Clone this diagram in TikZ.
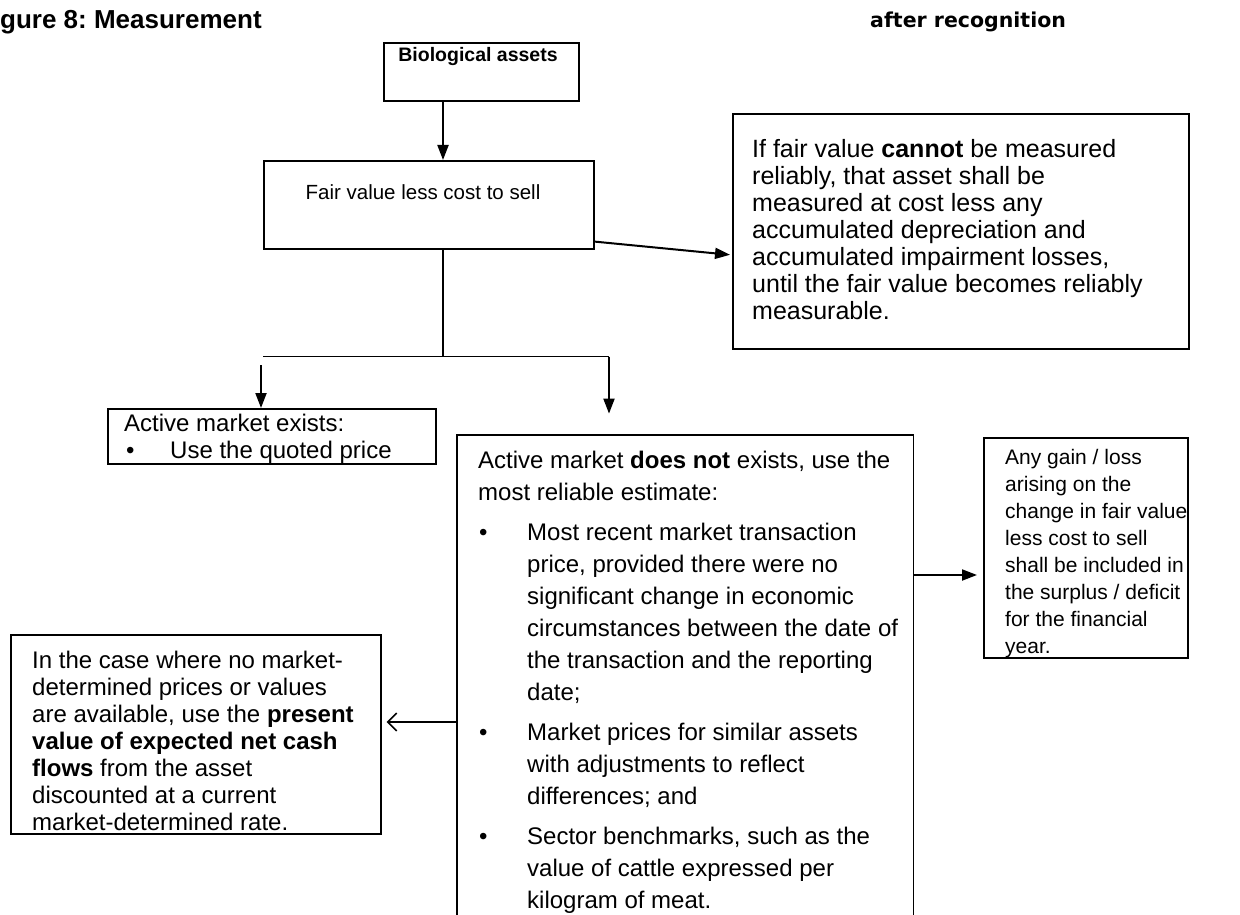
\documentclass[tikz,border=0pt]{standalone}
\usepackage{fontspec}
\setmainfont{Liberation Sans}
\newfontfamily\verdanafont{DejaVu Sans}
\usetikzlibrary{arrows.meta}
\frenchspacing
\newcommand{\nl}{\hfil\break}
\newcommand{\bitem}[4]{\par\vspace{#1}\noindent\hangindent=#2\hangafter=1\makebox[#2][l]{\hspace{#3}•}#4}
\newcommand{\blocktext}[2]{\begin{minipage}[t]{#1}\raggedright\noindent #2\end{minipage}}
\begin{document}
\begin{tikzpicture}[x=1pt,y=-1pt,
  boxline/.style={line width=1.6pt},
  box/.style={draw, boxline, rectangle, inner sep=0pt, anchor=north west},
  body/.style={anchor=north west, inner sep=0pt, align=left},
  plain/.style={anchor=north west, inner sep=0pt},
  line/.style={line width=1.6pt},
  arr/.style={line width=2pt, -{Triangle[length=15pt,width=11pt]}},
  openarr/.style={line width=1.6pt, -{Straight Barb[length=9pt,width=18pt]}}
]
\useasboundingbox (0,0) rectangle (1240,915);

% titles
\node[anchor=west, inner sep=0pt, font=\bfseries\fontsize{26}{26}\selectfont] (title) at (0,22) {gure 8: Measurement};
\node[anchor=west, inner sep=0pt, font=\verdanafont\bfseries\fontsize{20.5}{20.5}\selectfont] (title2) at (870,22) {after recognition};

% boxes
\node[box, minimum width=195pt, minimum height=58pt] (bio) at (383,42) {};
\node[box, minimum width=330pt, minimum height=88pt] (fair) at (263,160) {};
\node[box, minimum width=456pt, minimum height=235pt] (tr) at (732,113) {};
\node[box, minimum width=328pt, minimum height=55pt] (sbox) at (107,408) {};
\node[anchor=north west, inner sep=0pt, minimum width=456pt, minimum height=495pt] (mid) at (457,435) {};
\draw[boxline] (mid.south west) -- (mid.north west) -- (mid.north east) -- (mid.south east);
\node[box, minimum width=204pt, minimum height=220pt] (gl) at (983,437) {};
\node[box, minimum width=370pt, minimum height=199pt] (lb) at (10,634) {};

% texts
\node[anchor=base, inner sep=0pt, font=\bfseries\fontsize{19.5}{24}\selectfont] (biot) at (478,62) {Biological assets};
\node[anchor=base, inner sep=0pt, font=\fontsize{20.5}{27}\selectfont] (fairt) at (423,199) {Fair value less cost to sell};
\node[body, font=\fontsize{25}{27}\selectfont] (trt) at (752,139) {If fair value \textbf{cannot} be measured\\reliably, that asset shall be\\measured at cost less any\\accumulated depreciation and\\accumulated impairment losses,\\until the fair value becomes reliably\\measurable.};
\begin{scope}
\clip (sbox.north west) rectangle (sbox.south east);
\node[plain, font=\fontsize{24}{27}\selectfont] (sboxt) at (124,414) {\blocktext{300pt}{Active market exists:\bitem{0pt}{46pt}{2pt}{Use the quoted price}}};
\end{scope}
\node[plain, font=\fontsize{24}{32}\selectfont] (midt) at (478,451) {\blocktext{430pt}{Active market \textbf{does not} exists, use the\nl most reliable estimate:%
\bitem{8pt}{49pt}{1pt}{Most recent market transaction\nl price, provided there were no\nl significant change in economic\nl circumstances between the date of\nl the transaction and the reporting\nl date;}%
\bitem{8pt}{49pt}{1pt}{Market prices for similar assets\nl with adjustments to reflect\nl differences; and}%
\bitem{8pt}{49pt}{1pt}{Sector benchmarks, such as the\nl value of cattle expressed per\nl kilogram of meat.}}};
\begin{scope}
\clip (gl.north west) rectangle (gl.south east);
\node[body, font=\fontsize{21}{27}\selectfont] (glt) at (1005,449) {Any gain / loss\\arising on the\\change in fair value\\less cost to sell\\shall be included in\\the surplus / deficit\\for the financial\\year.};
\end{scope}
\node[body, font=\fontsize{24}{27}\selectfont] (lbt) at (32,651) {In the case where no market-\\determined prices or values\\are available, use the \textbf{present}\\\textbf{value of expected net cash}\\\textbf{flows} from the asset\\discounted at a current\\market-determined rate.};

% connectors
\draw[arr] (bio.south west) ++(60,0) coordinate (b1) -- (b1 |- fair.north);
\draw[line] (fair.south west) ++(180,0) coordinate (fb) -- ++(0,107) coordinate (br);
\draw[line] (fair.south west |- br) -- (br) -- ++(166,0) coordinate (brr);
\draw[arr] (brr) -- ++(0,57);
\draw[arr] (sbox.north west) ++(154,-43) coordinate (lb1) -- (lb1 |- sbox.north);
\coordinate (fo) at ([yshift=8pt]fair.south east);
\coordinate (tin) at ([yshift=-142pt]tr.north west);
\draw[arr, shorten >=2pt] (fo) -- (tin);
\coordinate (m1) at ([yshift=-140pt]mid.north east);
\draw[arr, shorten >=6pt] (m1) -- (m1 -| gl.west);
\coordinate (m2) at ([yshift=-287pt]mid.north west);
\draw[openarr, shorten >=5pt] (m2) -- (m2 -| lb.east);
\end{tikzpicture}
\end{document}
